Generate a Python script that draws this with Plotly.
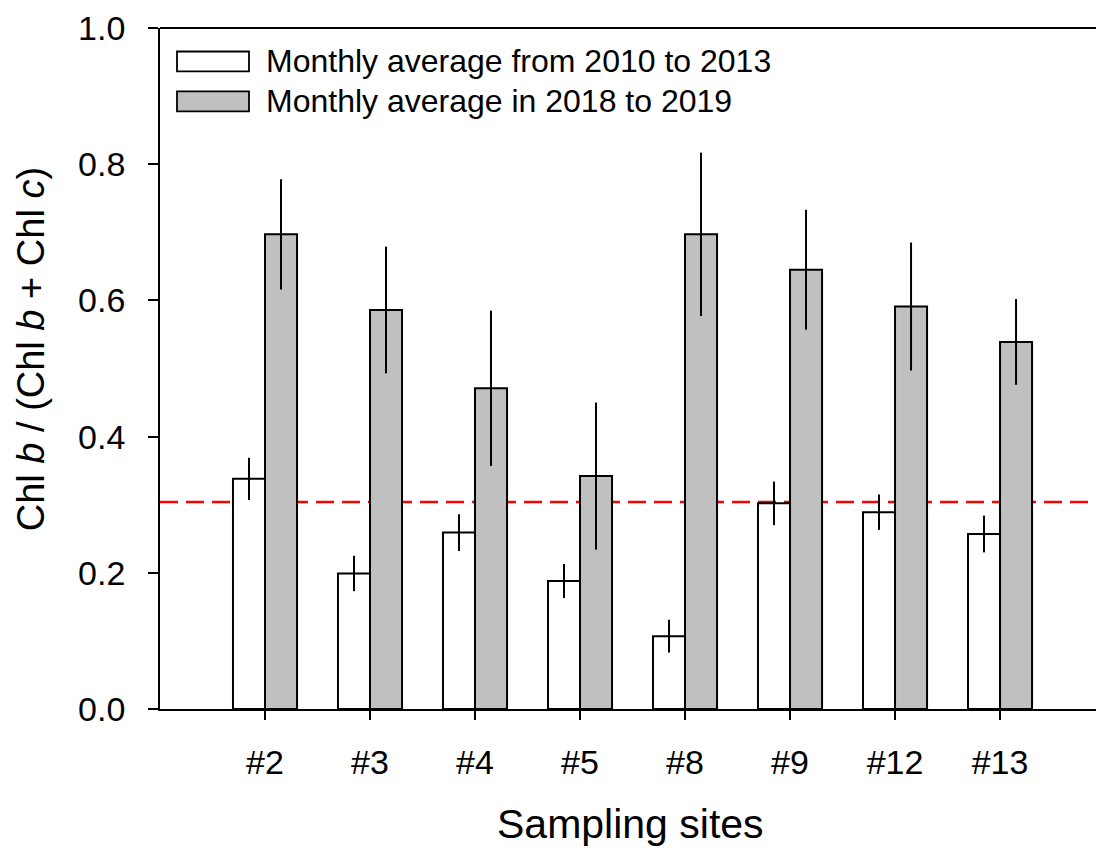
import plotly.graph_objects as go

sites = ["#2", "#3", "#4", "#5", "#8", "#9", "#12", "#13"]
avg_2010_2013 = [0.338, 0.199, 0.259, 0.188, 0.107, 0.302, 0.289, 0.257]
err_2010_2013 = [0.031, 0.026, 0.027, 0.025, 0.024, 0.032, 0.026, 0.027]
avg_2018_2019 = [0.697, 0.586, 0.471, 0.342, 0.697, 0.645, 0.591, 0.539]
err_2018_2019 = [0.081, 0.093, 0.114, 0.108, 0.120, 0.088, 0.094, 0.063]
threshold = 0.304
legend_names = ["Monthly average from 2010 to 2013", "Monthly average in 2018 to 2019"]
y_ticks = [0.0, 0.2, 0.4, 0.6, 0.8, 1.0]

FONT = "Arial, Liberation Sans, sans-serif"
W, H = 1096, 851
L, R, T, B = 160, 0, 27.5, 142
pw, ph = W - L - R, H - T - B

def px(x):
    return (x - L) / pw

def py(y):
    return (H - B - y) / ph

fig = go.Figure()
fig.add_trace(go.Bar(
    x=sites, y=avg_2010_2013, name=legend_names[0],
    marker=dict(color="white", line=dict(color="black", width=2)),
    error_y=dict(type="data", array=err_2010_2013, visible=True, width=0, thickness=2, color="black"),
    showlegend=False,
))
fig.add_trace(go.Bar(
    x=sites, y=avg_2018_2019, name=legend_names[1],
    marker=dict(color="#c0c0c0", line=dict(color="black", width=2)),
    error_y=dict(type="data", array=err_2018_2019, visible=True, width=0, thickness=2, color="black"),
    showlegend=False,
))

shapes = [
    dict(type="line", xref="paper", yref="y", x0=0, x1=1, y0=threshold, y1=threshold,
         line=dict(color="red", width=2.5, dash="18px,8px"), layer="below"),
    dict(type="line", xref="paper", yref="paper", x0=0, x1=1, y0=1, y1=1,
         line=dict(color="black", width=1.8)),
]
annotations = []
swatch_colors = ["white", "#c0c0c0"]
for i, (nm, col) in enumerate(zip(legend_names, swatch_colors)):
    yc = 61 + 40 * i
    shapes.append(dict(type="rect", xref="paper", yref="paper",
                       x0=px(177), x1=px(249), y0=py(yc - 10), y1=py(yc + 10),
                       fillcolor=col, line=dict(color="black", width=1.8)))
    annotations.append(dict(xref="paper", yref="paper", x=px(264), y=py(yc),
                            xanchor="left", yanchor="middle", showarrow=False,
                            text=nm, font=dict(family=FONT, size=32, color="black")))

annotations.append(dict(xref="paper", yref="paper", x=px(31), y=py(349),
                        xanchor="center", yanchor="middle", showarrow=False, textangle=-90,
                        text="Chl <i>b</i> / (Chl <i>b</i> + Chl <i>c</i>)",
                        font=dict(family=FONT, size=38, color="black")))
annotations.append(dict(xref="paper", yref="paper", x=px(630), y=py(824),
                        xanchor="center", yanchor="middle", showarrow=False,
                        text="Sampling sites",
                        font=dict(family=FONT, size=41, color="black")))

fig.update_layout(
    width=W, height=H,
    margin=dict(l=L, r=R, t=T, b=B, pad=0),
    paper_bgcolor="white", plot_bgcolor="white",
    barmode="group", bargap=0.39, bargroupgap=0,
    font=dict(family=FONT, size=34, color="black"),
    shapes=shapes, annotations=annotations,
    showlegend=False,
)
fig.update_xaxes(
    type="category", range=[-1, 7.914],
    showline=True, linecolor="black", linewidth=1.8,
    ticks="outside", ticklen=9, tickwidth=1.6, tickcolor="black",
    tickfont=dict(family=FONT, size=34), ticklabelstandoff=13,
    showgrid=False, zeroline=False,
)
fig.update_yaxes(
    range=[0, 1.0], tickvals=y_ticks, tickformat=".1f",
    showline=True, linecolor="black", linewidth=1.8,
    ticks="outside", ticklen=10, tickwidth=1.6, tickcolor="black",
    tickfont=dict(family=FONT, size=34), ticklabelstandoff=16,
    showgrid=False, zeroline=False,
)

fig.write_html("out.html")
